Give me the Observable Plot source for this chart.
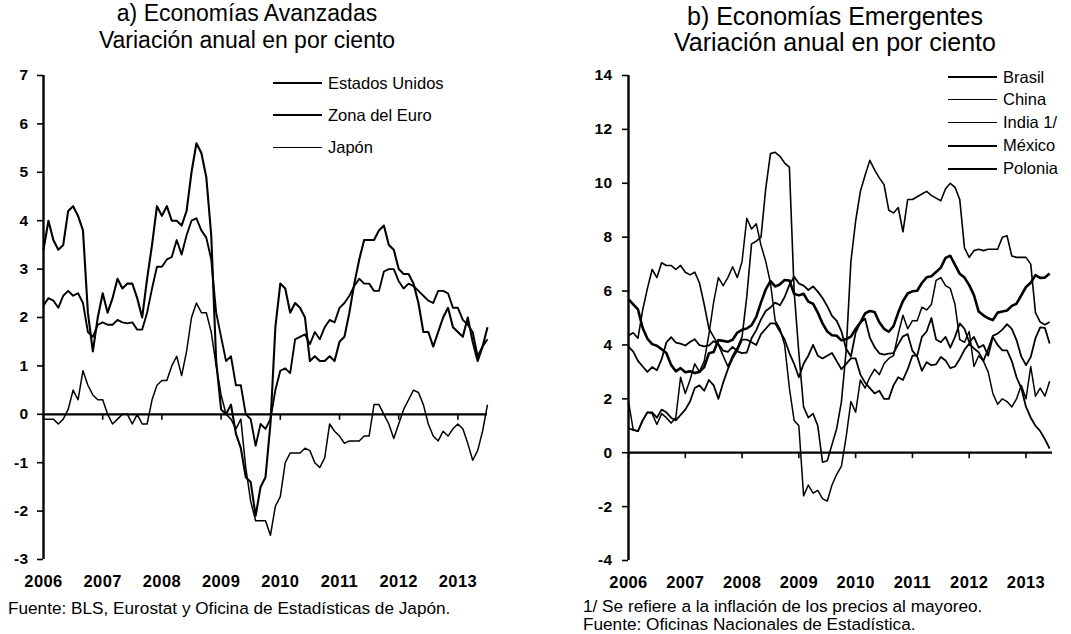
<!DOCTYPE html>
<html>
<head>
<meta charset="utf-8">
<script src="https://cdn.jsdelivr.net/npm/d3@7"></script>
<script src="https://cdn.jsdelivr.net/npm/@observablehq/plot@0.6"></script>
<style>
  html, body { margin: 0; padding: 0; background: #fff; }
  body { width: 1071px; height: 634px; position: relative; overflow: hidden;
         font-family: "Liberation Sans", Arial, sans-serif; color: #000; }
  .title { position: absolute; text-align: center; white-space: nowrap; }
  .panel { position: absolute; }
  .leg { position: absolute; white-space: nowrap; display: flex; align-items: center; }
  .leg .ln { display: inline-block; width: 49px; margin-right: 6px; background: #000; }
  .note { position: absolute; white-space: nowrap; font-size: 17.2px; line-height: 18px; }
  svg text { letter-spacing: 0.4px; }
</style>
</head>
<body>
<div class="title" style="left:47px;width:400px;top:0px;font-size:23px;line-height:27px;">a) Economías Avanzadas<br>Variación anual en por ciento</div>
<div class="title" style="left:635px;width:400px;top:3px;font-size:25px;line-height:26px;">b) Economías Emergentes<br>Variación anual en por ciento</div>
<div id="left" class="panel" style="left:0px;top:60px;"></div>
<div id="right" class="panel" style="left:540px;top:60px;"></div>
<div id="legL"></div>
<div id="legR"></div>
<div class="note" style="left:8px;top:599px;">Fuente: BLS, Eurostat y Oficina de Estadísticas de Japón.</div>
<div class="note" style="left:583px;top:597px;">1/ Se refiere a la inflación de los precios al mayoreo.</div>
<div class="note" style="left:583px;top:615px;">Fuente: Oficinas Nacionales de Estadística.</div>
<script>
// ---------- Data ----------
const yearLabels = ["2006", "2007", "2008", "2009", "2010", "2011", "2012", "2013"];

// Panel a) monthly, first point at the axis (Dec 2005) through Jun 2013
const estadosUnidos = [3.4,
  4.0,3.6,3.4,3.5,4.2,4.3,4.1,3.8,2.1,1.3,2.0,2.5,
  2.1,2.4,2.8,2.6,2.7,2.7,2.4,2.0,2.8,3.5,4.3,4.1,
  4.3,4.0,4.0,3.9,4.2,5.0,5.6,5.4,4.9,3.7,1.1,0.1,
  0.0,0.2,-0.4,-0.7,-1.3,-1.4,-2.1,-1.5,-1.3,-0.2,1.8,2.7,
  2.6,2.1,2.3,2.2,2.0,1.1,1.2,1.1,1.1,1.2,1.1,1.5,
  1.6,2.1,2.7,3.2,3.6,3.6,3.6,3.8,3.9,3.5,3.4,3.0,
  2.9,2.9,2.7,2.3,1.7,1.7,1.4,1.7,2.0,2.2,1.8,1.7,
  1.6,2.0,1.5,1.1,1.4,1.8];
const zonaEuro = [2.25,
  2.4,2.35,2.2,2.45,2.55,2.45,2.5,2.3,1.7,1.6,1.85,1.9,
  1.85,1.85,1.95,1.9,1.88,1.9,1.75,1.75,2.1,2.6,3.05,3.05,
  3.2,3.25,3.6,3.3,3.7,4.0,4.05,3.8,3.65,3.2,2.1,1.6,
  1.1,1.2,0.6,0.6,0.0,-0.1,-0.65,-0.2,-0.3,-0.1,0.5,0.9,
  0.95,0.85,1.55,1.6,1.65,1.45,1.7,1.55,1.8,1.95,1.9,2.2,
  2.3,2.45,2.65,2.8,2.7,2.7,2.55,2.55,2.95,3.0,3.0,2.75,
  2.6,2.7,2.65,2.55,2.45,2.35,2.3,2.55,2.55,2.5,2.2,2.2,
  1.95,1.85,1.7,1.2,1.4,1.55];
const japon = [-0.1,
  -0.1,-0.1,-0.2,-0.1,0.1,0.5,0.3,0.9,0.6,0.4,0.3,0.3,
  0.0,-0.2,-0.1,0.0,0.0,-0.2,0.0,-0.2,-0.2,0.3,0.6,0.7,
  0.7,1.0,1.2,0.8,1.3,2.0,2.3,2.1,2.1,1.7,1.0,0.4,
  0.0,-0.1,-0.3,-0.1,-1.1,-1.8,-2.2,-2.2,-2.2,-2.5,-1.9,-1.7,
  -1.0,-0.8,-0.8,-0.8,-0.7,-0.75,-1.0,-1.1,-0.9,-0.2,-0.35,-0.45,
  -0.6,-0.55,-0.55,-0.55,-0.45,-0.45,0.2,0.2,0.0,-0.2,-0.5,-0.2,
  0.1,0.3,0.5,0.45,0.2,-0.2,-0.45,-0.55,-0.35,-0.45,-0.3,-0.2,
  -0.3,-0.6,-0.95,-0.75,-0.35,0.2];

// Panel b) monthly, Jan 2006 through Jun 2013
const brasil = [5.70,5.51,5.32,4.63,4.23,4.03,3.97,3.84,3.70,3.26,3.02,3.14,
  2.99,3.02,2.96,3.00,3.18,3.69,3.74,4.18,4.15,4.12,4.19,4.46,
  4.56,4.61,4.73,5.04,5.58,6.06,6.37,6.17,6.25,6.41,6.39,5.90,
  5.84,5.90,5.61,5.53,5.20,4.80,4.50,4.36,4.34,4.17,4.22,4.31,
  4.59,4.83,5.17,5.26,5.22,4.84,4.60,4.49,4.70,5.20,5.63,5.91,
  5.99,6.01,6.30,6.51,6.55,6.71,6.87,7.23,7.31,6.97,6.64,6.50,
  6.22,5.85,5.24,5.10,4.99,4.92,5.20,5.24,5.28,5.45,5.53,5.84,
  6.15,6.31,6.59,6.49,6.50,6.65];
const china = [1.9,0.85,0.8,1.2,1.5,1.45,1.05,1.45,1.3,1.1,1.3,2.8,
  2.2,2.7,3.3,3.0,3.4,4.4,5.6,6.5,6.2,6.5,6.9,6.5,
  7.1,8.7,8.3,8.5,7.7,7.1,6.3,4.9,4.6,4.0,2.4,1.2,
  1.0,-1.6,-1.2,-1.5,-1.4,-1.7,-1.8,-1.2,-0.8,-0.5,0.6,1.9,
  1.5,2.7,2.4,2.8,3.1,2.9,3.3,3.5,3.6,4.4,5.1,4.6,
  4.9,4.9,5.4,5.3,5.5,6.4,6.5,6.2,6.1,5.5,4.2,4.1,
  4.5,3.2,3.6,3.4,3.0,2.2,1.8,2.0,1.9,1.7,2.0,2.5,
  2.0,3.2,2.1,2.4,2.1,2.65];
const india = [4.35,4.45,4.25,5.3,6.1,6.8,6.5,7.05,6.95,6.95,6.8,6.95,
  6.7,6.6,6.7,6.3,5.5,4.6,4.3,4.0,3.6,3.2,3.6,3.9,
  4.3,5.8,7.75,7.85,8.0,9.8,11.1,11.15,11.0,10.75,10.6,6.0,
  3.7,1.7,1.3,1.45,1.0,-0.35,-0.3,0.3,0.9,1.9,3.8,7.1,
  8.6,9.7,10.3,10.85,10.5,10.2,9.95,9.0,8.9,9.1,8.2,9.4,
  9.4,9.5,9.6,9.7,9.55,9.45,9.35,9.8,10.0,9.85,9.4,7.6,
  7.25,7.5,7.55,7.5,7.55,7.55,7.55,8.0,8.05,7.3,7.25,7.25,
  7.25,7.0,5.2,4.85,4.75,4.85];
const mexico = [3.94,3.75,3.41,3.20,3.00,3.18,3.06,3.47,4.09,4.29,4.09,4.05,
  3.98,4.11,4.21,3.99,3.95,3.98,4.14,4.03,3.79,3.74,3.93,3.76,
  3.70,3.72,4.25,4.55,4.95,5.26,5.39,5.57,5.47,5.78,6.23,6.53,
  6.28,6.20,6.04,6.17,5.98,5.74,5.44,5.08,4.89,4.50,3.86,3.57,
  4.46,4.83,4.97,4.27,3.92,3.69,3.64,3.68,3.70,4.02,4.32,4.40,
  3.78,3.57,3.04,3.36,3.25,3.28,3.55,3.42,3.14,3.20,3.48,3.82,
  4.05,3.87,3.73,3.41,3.85,4.34,4.42,4.57,4.77,4.60,4.18,3.57,
  3.25,3.55,4.25,4.65,4.63,4.05];
const polonia = [0.9,0.85,0.8,1.2,1.5,1.5,1.3,1.6,1.5,1.3,1.2,1.4,
  1.6,1.9,2.4,2.5,2.3,2.7,2.5,2.0,2.6,3.1,3.5,3.8,
  4.2,4.2,4.1,4.0,4.4,4.6,4.8,4.8,4.5,4.2,3.7,3.3,
  2.8,3.3,3.6,4.0,3.6,3.5,3.6,3.7,3.4,3.1,3.3,3.5,
  3.5,2.9,2.6,2.4,2.2,2.3,2.0,2.0,2.5,2.8,2.7,3.1,
  3.6,3.6,4.3,4.5,5.0,4.2,4.1,4.3,3.9,4.3,4.8,4.6,
  4.1,4.3,3.9,4.0,3.6,4.3,4.0,3.8,3.8,3.4,2.8,2.4,
  1.7,1.3,1.0,0.8,0.5,0.15];

const seriesA = [
  {name: "Estados Unidos", values: estadosUnidos, width: 2.1},
  {name: "Zona del Euro", values: zonaEuro, width: 1.9},
  {name: "Japón", values: japon, width: 1.5}
];
const seriesB = [
  {name: "Brasil", values: brasil, width: 2.6},
  {name: "China", values: china, width: 1.5},
  {name: "India 1/", values: india, width: 1.6},
  {name: "México", values: mexico, width: 1.8},
  {name: "Polonia", values: polonia, width: 1.8}
];
const yTicksA = [-3, -2, -1, 0, 1, 2, 3, 4, 5, 6, 7];
const yTicksB = [-4, -2, 0, 2, 4, 6, 8, 10, 12, 14];

// ---------- Drawing ----------
const font = "'Liberation Sans', Arial, sans-serif";
const monthTicks = yearLabels.map((_, k) => k * 12);

function panel(series, opts) {
  const lineMarks = series.map(s =>
    Plot.line(s.values.map((v, i) => ({i, v})), {
      x: "i", y: "v", stroke: "#000", strokeWidth: s.width,
      strokeLinejoin: "round", strokeLinecap: "butt"
    })
  );
  return Plot.plot({
    width: opts.width, height: 535,
    marginLeft: opts.marginLeft, marginRight: opts.marginRight,
    marginTop: 15, marginBottom: opts.marginBottom,
    x: {domain: opts.xDomain, axis: null},
    y: {domain: opts.yDomain, axis: null},
    style: {fontFamily: font, background: "transparent", overflow: "visible", color: "#000"},
    marks: [
      Plot.axisY({ticks: opts.yTicks, tickSize: 6, tickPadding: opts.tickPad, fontSize: 15.5,
                  fontWeight: "bold", strokeWidth: 1.6, label: null,
                  tickFormat: d => String(d)}),
      Plot.axisX({ticks: monthTicks, anchor: "bottom", tickSize: 0, tickPadding: 16,
                  fontSize: 16.5, fontWeight: "bold", label: null,
                  tickFormat: d => yearLabels[d / 12]}),
      Plot.ruleX(monthTicks, {y1: 0, y2: 0, insetBottom: -6, stroke: "#000", strokeWidth: 1.6}),
      ...lineMarks,
      Plot.ruleY([0], {stroke: "#000", strokeWidth: 2.2}),
      Plot.ruleX([0], {stroke: "#000", strokeWidth: 2.4})
    ]
  });
}

document.getElementById("left").append(panel(seriesA, {
  width: 500, marginLeft: 43, marginRight: 13, marginBottom: 36,
  xDomain: [0, 90], yDomain: [-3, 7], yTicks: yTicksA, tickPad: 9
}));
document.getElementById("right").append(panel(seriesB, {
  width: 531, marginLeft: 88, marginRight: 19, marginBottom: 35,
  xDomain: [0, 89.6], yDomain: [-4, 14], yTicks: yTicksB, tickPad: 10
}));

// Legends
function legend(containerId, series, x, y0, step, fontSize) {
  const c = document.getElementById(containerId);
  series.forEach((s, k) => {
    const d = document.createElement("div");
    d.className = "leg";
    d.style.left = x + "px";
    d.style.top = (y0 + k * step - 10) + "px";
    d.style.height = "20px";
    d.style.fontSize = fontSize + "px";
    const ln = document.createElement("span");
    ln.className = "ln";
    ln.style.height = Math.max(1, Math.round(s.width * 0.9)) + "px";
    d.append(ln, document.createTextNode(s.name));
    c.append(d);
  });
}
legend("legL", seriesA, 273, 83, 32, 16.5);
legend("legR", seriesB, 948, 77, 22.9, 16.5);
</script>
</body>
</html>
